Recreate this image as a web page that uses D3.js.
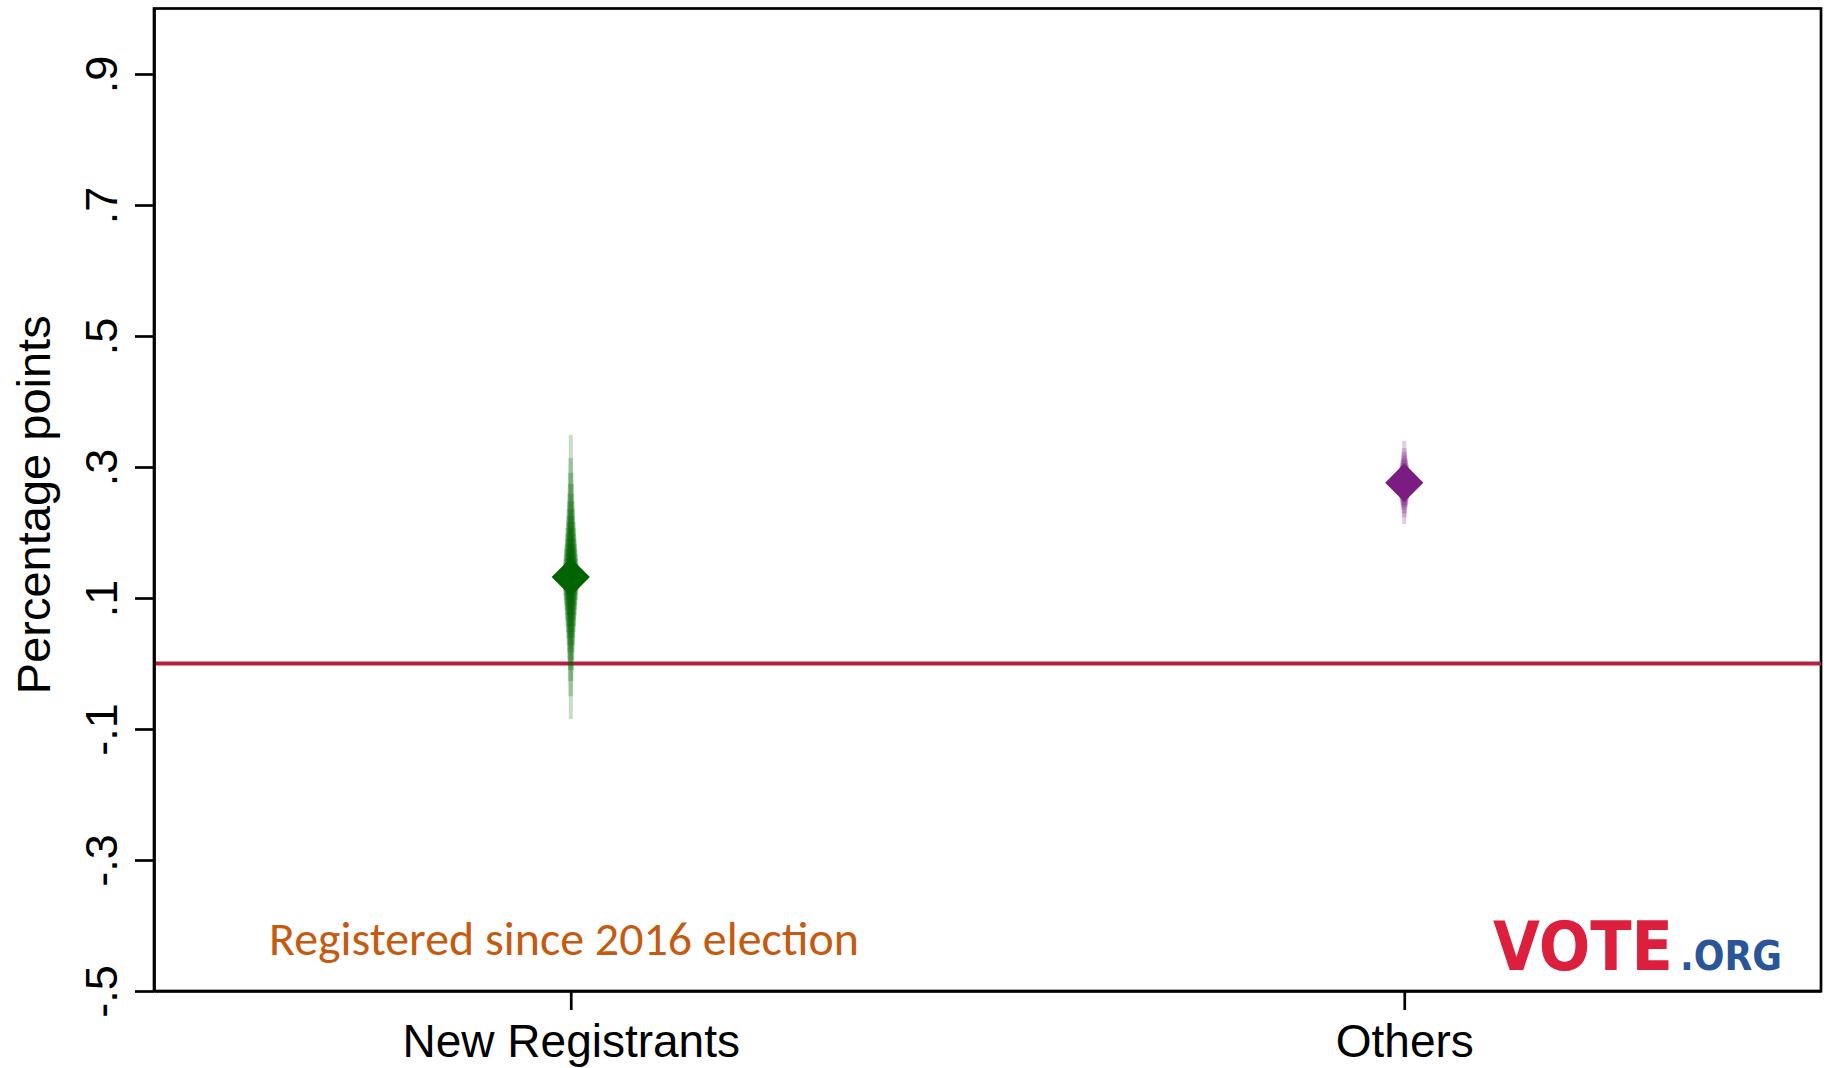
<!DOCTYPE html>
<html>
<head>
<meta charset="utf-8">
<script src="https://cdn.jsdelivr.net/npm/d3@7"></script>
<style>
  html, body { margin: 0; padding: 0; background: #ffffff; }
  svg { display: block; }
</style>
</head>
<body>
<svg id="chart" width="1829" height="1068"></svg>
<script>
// ---- data ----
const categories = ["New Registrants", "Others"];
const estimates = [0.132, 0.276];

// confidence levels of the nested interval bands, widest first
const ciLevels = [0.95, 0.90, 0.85, 0.80, 0.75, 0.70, 0.65, 0.60, 0.55, 0.50,
                  0.45, 0.40, 0.35, 0.30, 0.25, 0.20, 0.15, 0.10, 0.05];

const newRegLower = [-0.085, -0.050, -0.027, -0.010, 0.005, 0.017, 0.028, 0.039, 0.048, 0.057,
                      0.066, 0.074, 0.082, 0.089, 0.097, 0.104, 0.111, 0.118, 0.125];
const newRegUpper = [0.349, 0.314, 0.291, 0.274, 0.259, 0.247, 0.236, 0.225, 0.216, 0.207,
                     0.198, 0.190, 0.182, 0.175, 0.167, 0.160, 0.153, 0.146, 0.139];

const othersLower = [0.213, 0.223, 0.229, 0.235, 0.239, 0.242, 0.246, 0.249, 0.252, 0.254,
                     0.257, 0.259, 0.261, 0.264, 0.266, 0.268, 0.270, 0.272, 0.274];
const othersUpper = [0.340, 0.329, 0.323, 0.318, 0.313, 0.310, 0.306, 0.303, 0.301, 0.298,
                     0.295, 0.293, 0.291, 0.289, 0.286, 0.284, 0.282, 0.280, 0.278];

const yTickValues = [-0.5, -0.3, -0.1, 0.1, 0.3, 0.5, 0.7, 0.9];
const yTickLabels = ["-.5", "-.3", "-.1", ".1", ".3", ".5", ".7", ".9"];
const referenceValue = 0;

const yTitle = "Percentage points";
const noteText = "Registered since 2016 election";

// ---- layout & styles ----
const plot = { left: 154, right: 1821, top: 8.5, bottom: 991 };
const seriesColors = ["#006400", "#7a1c82"];
const refColor = "#b3213f";
const axisWidth = 2.7;
const helv = "'Liberation Sans', Arial, Helvetica, sans-serif";

const svg = d3.select("#chart");

const x = d3.scalePoint()
  .domain(categories)
  .range([plot.left, plot.right])
  .padding(0.5);

const y = d3.scaleLinear()
  .domain([-0.5, 1.0])
  .range([plot.bottom, plot.top]);

// frame (top and right edges)
svg.append("rect")
  .attr("x", plot.left).attr("y", plot.top)
  .attr("width", plot.right - plot.left).attr("height", plot.bottom - plot.top)
  .attr("fill", "none").attr("stroke", "#000").attr("stroke-width", axisWidth);

// reference line at zero
svg.append("line")
  .attr("x1", plot.left).attr("x2", plot.right)
  .attr("y1", y(referenceValue)).attr("y2", y(referenceValue))
  .attr("stroke", refColor).attr("stroke-width", 4);

// nested confidence bands + point estimate
const bandSets = [
  { lower: newRegLower, upper: newRegUpper },
  { lower: othersLower, upper: othersUpper }
];

const bandWidth = level => 4 + 13 * (0.95 - level) / 0.9;

categories.forEach((cat, i) => {
  const g = svg.append("g").attr("class", "estimate");
  const bands = ciLevels.map((lv, k) => ({
    level: lv, lo: bandSets[i].lower[k], hi: bandSets[i].upper[k]
  }));
  g.selectAll("rect.band")
    .data(bands)
    .join("rect")
    .attr("class", "band")
    .attr("x", d => x(cat) - bandWidth(d.level) / 2)
    .attr("width", d => bandWidth(d.level))
    .attr("y", d => y(d.hi))
    .attr("height", d => y(d.lo) - y(d.hi))
    .attr("fill", seriesColors[i])
    .attr("fill-opacity", 0.22);

  g.append("path")
    .attr("d", d3.symbol(d3.symbolSquare, 730)())
    .attr("transform", `translate(${x(cat)},${y(estimates[i])}) rotate(45)`)
    .attr("fill", seriesColors[i]);
});

// y axis
const yAxis = svg.append("g")
  .attr("transform", `translate(${plot.left},0)`)
  .call(d3.axisLeft(y)
    .tickValues(yTickValues)
    .tickFormat((d, i) => yTickLabels[i])
    .tickSize(19)
    .tickSizeOuter(0));
yAxis.select(".domain").attr("stroke-width", axisWidth);
yAxis.selectAll(".tick line").attr("stroke-width", axisWidth);
yAxis.selectAll(".tick text")
  .attr("transform", "rotate(-90)")
  .attr("x", 0).attr("y", -37).attr("dy", 0)
  .attr("text-anchor", "middle")
  .style("font-family", helv)
  .style("font-size", "45px")
  .attr("fill", "#000");

// x axis
const xAxis = svg.append("g")
  .attr("transform", `translate(0,${plot.bottom})`)
  .call(d3.axisBottom(x).tickSize(19).tickSizeOuter(0));
xAxis.select(".domain").attr("stroke-width", axisWidth);
xAxis.selectAll(".tick line").attr("stroke-width", axisWidth);
xAxis.selectAll(".tick text")
  .attr("y", 66).attr("dy", 0)
  .style("font-family", helv)
  .style("font-size", "46px")
  .attr("fill", "#000");

// y axis title
svg.append("text")
  .attr("transform", `translate(50,${(plot.top + plot.bottom) / 2 + 5}) rotate(-90)`)
  .attr("text-anchor", "middle")
  .style("font-family", helv)
  .style("font-size", "47px")
  .attr("fill", "#000")
  .text(yTitle);

// note in the lower left of the plot
const note = svg.append("text")
  .attr("x", 269).attr("y", 955)
  .style("font-family", "Carlito, Lato, 'Open Sans', sans-serif")
  .style("font-size", "46px")
  .attr("fill", "#c55a11")
  .text(noteText);
const noteW = note.node().getComputedTextLength();
note.style("font-size", (46 * 590 / noteW).toFixed(2) + "px");

// VOTE.ORG wordmark in a narrow bold face, sized to fit its slot
const logoFont = "'Liberation Sans Narrow', 'DejaVu Sans Condensed', 'Liberation Sans', sans-serif";
function fitText(sel, size, maxW) {
  sel.style("font-size", size + "px");
  const w = sel.node().getComputedTextLength();
  if (w > maxW) sel.style("font-size", (size * maxW / w).toFixed(2) + "px");
  return sel;
}
const vote = svg.append("text")
  .attr("x", 1493).attr("y", 970)
  .style("font-family", logoFont)
  .style("font-weight", "bold")
  .attr("fill", "#dc1f3c")
  .text("VOTE");
fitText(vote, 80, 180);
const org = svg.append("text")
  .attr("x", 1680).attr("y", 970)
  .style("font-family", logoFont)
  .style("font-weight", "bold")
  .attr("fill", "#2a5599")
  .text(".ORG");
fitText(org, 48, 102);
</script>
</body>
</html>
